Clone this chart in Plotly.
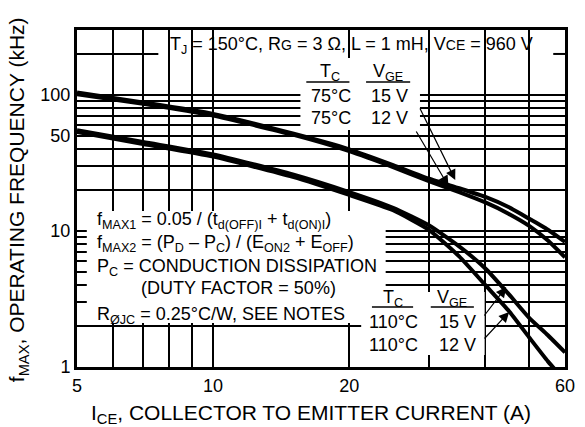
import math
import plotly.graph_objects as go

# ---- data ----
ice = [5, 7, 10, 15, 20, 25, 30, 35, 40, 45, 50, 55, 60]
f_75_15 = [104, 88, 72.5, 52, 39.8, 30.5, 24.2, 20.6, 17.8, 15.0, 12.3, 10.2, 8.3]
f_75_12 = [101, 86, 70.5, 51, 38.6, 29.5, 23.2, 19.3, 16.2, 13.4, 10.9, 8.5, 6.4]
ice_110_15 = [5, 7, 10, 15, 20, 25, 30, 35, 40, 45, 50, 55, 60]
f_110_15 = [55, 45, 36.5, 26, 19.3, 14.8, 11.0, 7.7, 5.3, 3.45, 2.3, 1.71, 1.28]
ice_110_12 = [5, 7, 10, 15, 20, 25, 30, 35, 40, 45, 50, 55, 57.5]
f_110_12 = [53.5, 43.5, 35.2, 25, 18.4, 14.2, 10.2, 6.5, 4.0, 2.6, 1.65, 1.1, 0.93]

x_tickvals = [5, 10, 20, 60]
x_ticktext = ["5", "10", "20", "60"]
x_minor = [6, 7, 8, 9, 30, 40, 50]
y_tickvals = [1, 10, 50, 100]
y_ticktext = ["1", "10", "50", "100"]
y_minor = [2, 3, 4, 5, 6, 7, 8, 9, 20, 30, 40, 60, 70, 80, 90]

X_RANGE = (5, 60)
Y_RANGE = (1, 300)

# ---- layout geometry (pixels) ----
WIDTH, HEIGHT = 585, 427
ML, MR, MT, MB = 77, 10, 30, 60
PW = WIDTH - ML - MR
PH = HEIGHT - MT - MB


def px(xp):
    return (xp - ML) / PW


def py(yp):
    return (MT + PH - yp) / PH


FONT = "Liberation Sans, Arial, Helvetica, sans-serif"
FS = 18

fig = go.Figure()
for xs, ys in [(ice, f_75_15), (ice, f_75_12), (ice_110_15, f_110_15), (ice_110_12, f_110_12)]:
    fig.add_trace(go.Scatter(x=xs, y=ys, mode="lines",
                             line=dict(color="black", width=4, shape="spline", smoothing=0.5),
                             showlegend=False, hoverinfo="skip"))

shapes = []
# white masks that hide grid lines under the text blocks
for (x0, y0, x1, y1) in [(87, 211, 392, 323), (305, 58, 427, 130), (367, 292, 493, 355)]:
    shapes.append(dict(type="rect", xref="paper", yref="paper", x0=px(x0), x1=px(x1),
                       y0=py(y1), y1=py(y0), fillcolor="white", line=dict(width=0),
                       layer="above"))
# the 200 kHz grid line is interrupted by the condition text
y200 = (math.log10(200) - math.log10(Y_RANGE[0])) / (math.log10(Y_RANGE[1]) - math.log10(Y_RANGE[0]))
for (a, b) in [(77, 160), (563, 575)]:
    shapes.append(dict(type="line", xref="paper", yref="paper", x0=px(a), x1=px(b),
                       y0=y200, y1=y200, line=dict(color="black", width=2), layer="below"))
# header underlines
for (a, b, yy) in [(311, 355, 82), (372, 417, 82), (378, 420, 307), (438, 482, 307)]:
    shapes.append(dict(type="line", xref="paper", yref="paper", x0=px(a), x1=px(b),
                       y0=py(yy), y1=py(yy), line=dict(color="black", width=1.5), layer="above"))

ann = []


def text(t, x, y, xanchor="center", size=FS, angle=0):
    ann.append(dict(text=t, x=px(x), y=py(y), xref="paper", yref="paper", showarrow=False,
                    xanchor=xanchor, yanchor="middle", textangle=angle,
                    font=dict(family=FONT, size=size, color="black")))


small = '<span style="font-size:14px">%s</span>'
text("T<sub>J</sub> = 150°C, R" + small % "G" + " = 3 Ω, L = 1 mH, V" + small % "CE" + " = 960 V", 357, 46)

text("T<sub>C</sub>", 335, 73)
text("V<sub>GE</sub>", 394, 73)
text("75°C", 336, 96)
text("15 V", 396, 96)
text("75°C", 336, 118)
text("12 V", 396, 118)

text("T<sub>C</sub>", 399, 298)
text("V<sub>GE</sub>", 460, 298)
text("110°C", 400, 322)
text("15 V", 465, 322)
text("110°C", 400, 345)
text("12 V", 465, 345)

text("f<sub>MAX1</sub> = 0.05 / (t<sub>d(OFF)I</sub> + t<sub>d(ON)I</sub>)", 95, 221, "left")
text("f<sub>MAX2</sub> = (P<sub>D</sub> – P<sub>C</sub>) / (E<sub>ON2</sub> + E<sub>OFF</sub>)", 95, 244, "left")
text("P<sub>C</sub> = CONDUCTION DISSIPATION", 95, 267, "left")
text("(DUTY FACTOR = 50%)", 140, 288, "left")
text("R<sub>ØJC</sub> = 0.25°C/W, SEE NOTES", 95, 315, "left")

text("I<sub>CE</sub>, COLLECTOR TO EMITTER CURRENT (A)", 316, 414, size=21)
text("f<sub>MAX</sub>, OPERATING FREQUENCY (kHz)", 17, 200, size=21, angle=-90)

# arrows: (tip_x, tip_y, tail_x, tail_y)
for (tx, ty, sx, sy) in [(463, 180, 427, 107), (456, 186, 423, 130),
                         (515, 287, 492, 317), (518, 312, 492, 340)]:
    ann.append(dict(text="", x=px(tx), y=py(ty), xref="paper", yref="paper",
                    ax=sx - tx, ay=sy - ty, axref="pixel", ayref="pixel",
                    showarrow=True, arrowhead=2, arrowsize=1.7, arrowwidth=1.2,
                    arrowcolor="black"))

grid = dict(showgrid=True, gridcolor="black", gridwidth=2)
fig.update_layout(
    width=WIDTH, height=HEIGHT,
    margin=dict(l=ML, r=MR, t=MT, b=MB),
    paper_bgcolor="white", plot_bgcolor="white",
    font=dict(family=FONT, size=FS, color="black"),
    shapes=shapes, annotations=ann,
    xaxis=dict(type="log", range=[math.log10(X_RANGE[0]), math.log10(X_RANGE[1])],
               tickvals=x_tickvals, ticktext=x_ticktext, **grid,
               minor=dict(tickvals=x_minor, ticks="", **grid),
               showline=True, linecolor="black",
               linewidth=3, mirror=True, ticks="", zeroline=False,
               tickfont=dict(family=FONT, size=FS)),
    yaxis=dict(type="log", range=[math.log10(Y_RANGE[0]), math.log10(Y_RANGE[1])],
               tickvals=y_tickvals, ticktext=y_ticktext, **grid,
               minor=dict(tickvals=y_minor, ticks="", **grid),
               showline=True, linecolor="black",
               linewidth=3, mirror=True, ticks="", zeroline=False,
               tickfont=dict(family=FONT, size=FS)),
)

fig.write_html("out.html", config={"displayModeBar": False},
               post_script="document.body.style.margin='0';")
